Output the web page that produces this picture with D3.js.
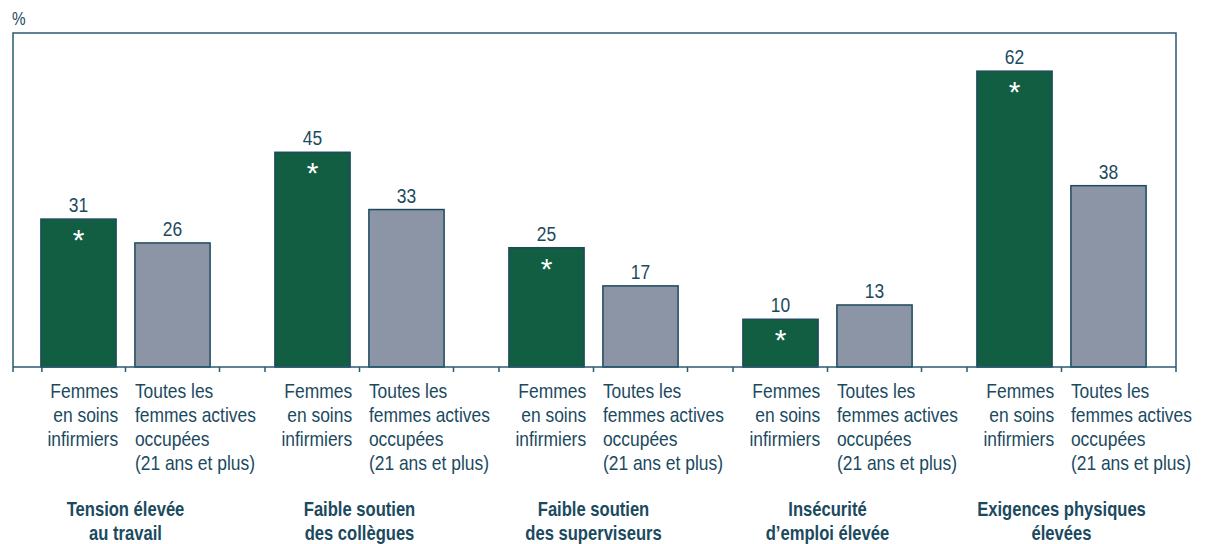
<!DOCTYPE html>
<html>
<head>
<meta charset="utf-8">
<script src="https://cdn.jsdelivr.net/npm/d3@7"></script>
<style>
  html, body { margin: 0; padding: 0; background: #ffffff; }
  svg { display: block; }
  text { font-family: "Liberation Sans", Arial, "Helvetica", sans-serif; }
</style>
</head>
<body>
<div id="chart"></div>
<script>
// ---- data ----
const groups = [
  ["Tension élevée", "au travail"],
  ["Faible soutien", "des collègues"],
  ["Faible soutien", "des superviseurs"],
  ["Insécurité", "d’emploi élevée"],
  ["Exigences physiques", "élevées"]
];
const seriesKeys = ["nurses", "all"];
const seriesLabels = [
  ["Femmes", "en soins", "infirmiers"],
  ["Toutes les", "femmes actives", "occupées", "(21 ans et plus)"]
];
const nurses = [31, 45, 25, 10, 62];
const allWomen = [26, 33, 17, 13, 38];
const significant = [true, true, true, true, true];
const yMax = 70;
const yUnit = "%";

// ---- layout ----
const W = 1205, H = 544;
const frameL = 13, frameR = 1176, frameT = 33, base = 367;
const textColor = "#1b4a5f";
const lineColor = "#2a5a70";
const greenFill = "#115e42";
const grayFill = "#8c95a5";
const barStroke = "#1d4a5e";

const svg = d3.select("#chart").append("svg")
  .attr("width", W).attr("height", H);

// condensed text helper: places text anchored at (x, y) with narrowed glyphs
function ntext(parent, x, y, str, opts) {
  const sx = opts.sx || 0.85;
  const t = parent.append("text")
    .attr("transform", `translate(${x},${y}) scale(${sx},1)`)
    .attr("x", 0).attr("y", 0)
    .attr("text-anchor", opts.anchor || "start")
    .attr("font-size", opts.size || 20.5)
    .attr("font-weight", opts.weight || "normal")
    .attr("fill", opts.fill || textColor);
  if (Array.isArray(str)) {
    str.forEach((s, j) => t.append("tspan").attr("x", 0).attr("y", j * (opts.lineH || 24)).text(s));
  } else {
    t.text(str);
  }
  return t;
}

const groupIds = groups.map((g, i) => "g" + i);
const x0 = d3.scaleBand().domain(groupIds).range([31, 1201]).paddingInner(0).paddingOuter(0);
const x1 = d3.scaleBand().domain(seriesKeys).range([0.5, 188.5]).paddingInner(0.2).paddingOuter(0.1);
const y = d3.scaleLinear().domain([0, yMax]).range([base, frameT]);

const values = groupIds.map((id, i) => ({ id, i, nurses: nurses[i], all: allWomen[i] }));

// frame
svg.append("path")
  .attr("d", `M${frameL},${base + 5}V${frameT}H${frameR}V${base + 5}`)
  .attr("fill", "none").attr("stroke", lineColor).attr("stroke-width", 1.5);

// y unit
ntext(svg, frameL - 1, 25, yUnit, { size: 18 });

// bars
const g = svg.selectAll("g.grp").data(values).join("g")
  .attr("class", "grp")
  .attr("transform", d => `translate(${x0(d.id)},0)`);

g.selectAll("rect").data(d => seriesKeys.map(k => ({ k, v: d[k], i: d.i }))).join("rect")
  .attr("x", d => x1(d.k))
  .attr("y", d => y(d.v))
  .attr("width", x1.bandwidth())
  .attr("height", d => y(0) - y(d.v))
  .attr("fill", d => d.k === "nurses" ? greenFill : grayFill)
  .attr("stroke", barStroke).attr("stroke-width", 1.5);

// x axis line
svg.append("line")
  .attr("x1", frameL).attr("x2", frameR).attr("y1", base).attr("y2", base)
  .attr("stroke", lineColor).attr("stroke-width", 1.5);

// ticks
const tickXs = [];
values.forEach((d, i) => {
  const gx = x0(d.id);
  tickXs.push(i === 0 ? gx + x1("nurses") + 1 : gx);
  tickXs.push(gx + (x1("nurses") + x1.bandwidth() + x1("all")) / 2);
  if (i < values.length - 1) tickXs.push(gx + x1.range()[1]);
});
svg.selectAll("line.tick").data(tickXs).join("line")
  .attr("class", "tick")
  .attr("x1", d => d).attr("x2", d => d)
  .attr("y1", base).attr("y2", base + 5)
  .attr("stroke", lineColor).attr("stroke-width", 1.5);

// labels per group
const lineH = 24, labelTop = 398;
g.each(function (d) {
  const sel = d3.select(this);
  seriesKeys.forEach(k => {
    const v = d[k];
    ntext(sel, x1(k) + x1.bandwidth() / 2, y(v) - 7, String(v), { anchor: "middle", size: 20.5 });
  });
  if (significant[d.i]) {
    sel.append("text")
      .attr("x", x1("nurses") + x1.bandwidth() / 2)
      .attr("y", y(d.nurses) + 31)
      .attr("text-anchor", "middle")
      .attr("font-size", 30).attr("fill", "#ffffff")
      .text("*");
  }
  ntext(sel, x1("nurses") + x1.bandwidth() + 2, labelTop, seriesLabels[0], { anchor: "end", lineH });
  ntext(sel, x1("all"), labelTop, seriesLabels[1], { anchor: "start", lineH });
  const cx = (x1("nurses") + x1("all") + x1.bandwidth()) / 2;
  ntext(sel, cx, 516, groups[d.i], { anchor: "middle", weight: "bold", size: 20, sx: 0.83, lineH });
});
</script>
</body>
</html>
